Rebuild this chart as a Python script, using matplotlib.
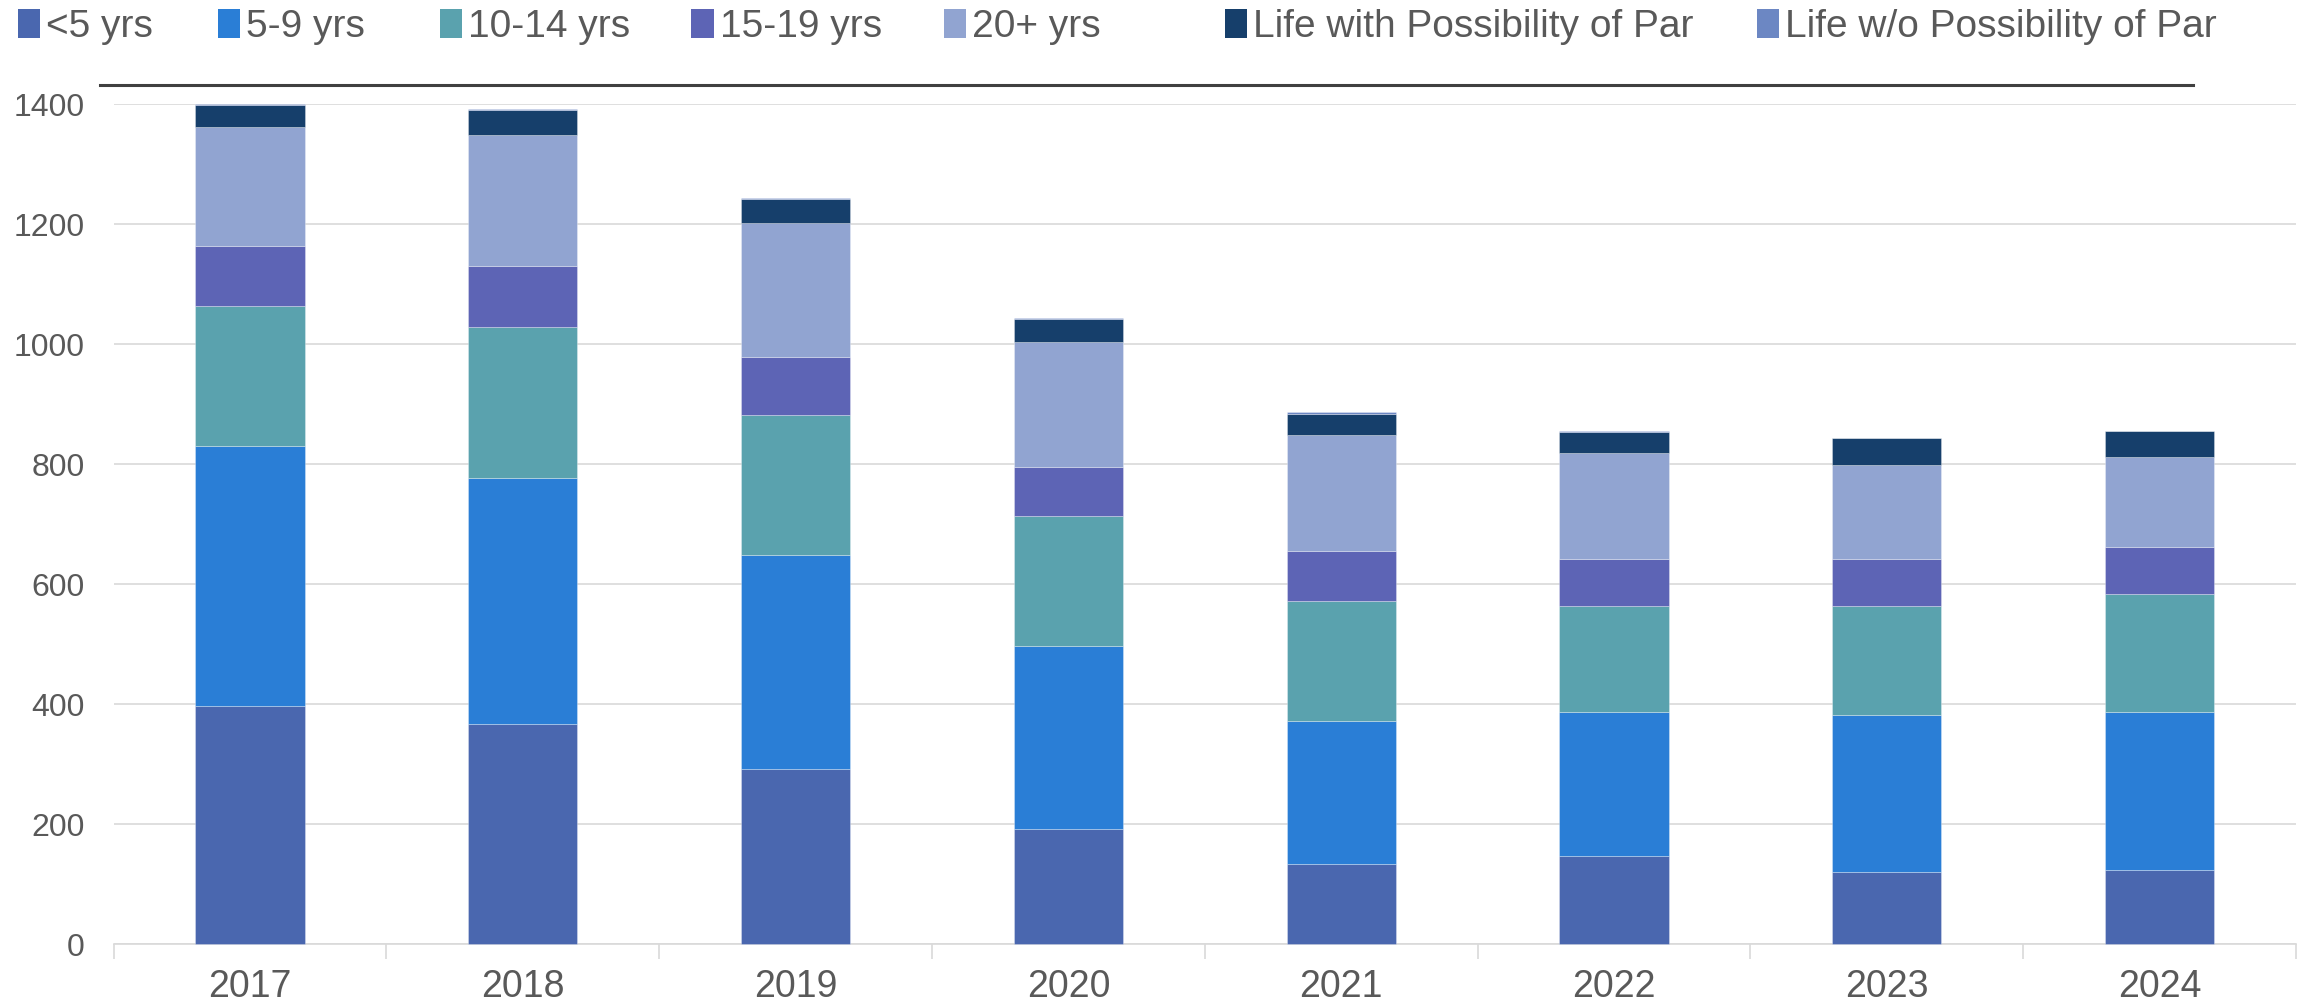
import matplotlib
matplotlib.use("Agg")
import matplotlib.pyplot as plt
import numpy as np
from matplotlib.lines import Line2D
from matplotlib.patches import Patch

plt.rcParams['font.family'] = ['Liberation Sans', 'DejaVu Sans']

years = ["2017", "2018", "2019", "2020", "2021", "2022", "2023", "2024"]
series_names = ["<5 yrs", "5-9 yrs", "10-14 yrs", "15-19 yrs", "20+ yrs",
                "Life with Possibility of Par", "Life w/o Possibility of Par"]

under_5 = [397, 367, 291, 191, 133, 147, 120, 123]
yrs_5_9 = [433, 409, 357, 306, 238, 240, 262, 264]
yrs_10_14 = [234, 253, 233, 216, 201, 177, 182, 196]
yrs_15_19 = [100, 101, 97, 82, 83, 78, 78, 79]
yrs_20_plus = [197, 218, 224, 209, 194, 177, 157, 149]
life_parole = [38, 42, 39, 37, 34, 34, 44, 44]
life_no_parole = [1, 2, 2, 2, 4, 2, 1, 0]

colors = ["#4A67AF", "#2A7ED6", "#5AA2AE", "#5D64B5", "#91A4D1", "#163F6B", "#6C87C3"]
text_color = "#595959"
grid_color = "#D9D9D9"

# left edge of each legend entry, in pixels of the 2305 px wide picture
legend_x = [17.6, 217.6, 439.5, 691, 943.7, 1224.5, 1756.7]

all_series = [under_5, yrs_5_9, yrs_10_14, yrs_15_19, yrs_20_plus, life_parole, life_no_parole]

fig = plt.figure(figsize=(23.05, 10.06), dpi=100)
ax = fig.add_axes([113.6 / 2305, 1 - 944 / 1006, (2296 - 113.6) / 2305, (944 - 104) / 1006])

x = np.arange(len(years))
bottom = np.zeros(len(years))
for name, vals, col in zip(series_names, all_series, colors):
    vals = np.array(vals, dtype=float)
    ax.bar(x, vals, 0.4, bottom=bottom, color=col, label=name,
           edgecolor=(1, 1, 1, 0.35), linewidth=0.6, zorder=3, clip_on=False)
    bottom += vals

ax.set_xlim(-0.5, len(years) - 0.5)
ax.set_ylim(0, 1400)
ax.set_yticks(np.arange(0, 1401, 200))
ax.yaxis.grid(True, color=grid_color, linewidth=1.2, zorder=0)
ax.set_axisbelow(True)

ax.set_xticks(x)
ax.set_xticklabels(years)
ax.set_xticks(np.arange(-0.5, len(years), 1), minor=True)
ax.tick_params(axis='x', which='major', length=0, pad=18, labelsize=27, labelcolor=text_color)
ax.tick_params(axis='x', which='minor', length=11, width=1.2, color=grid_color)
ax.tick_params(axis='y', length=0, pad=21, labelsize=23, labelcolor=text_color)

for s in ['top', 'right', 'left']:
    ax.spines[s].set_visible(False)
ax.spines['bottom'].set_color(grid_color)
ax.spines['bottom'].set_linewidth(1.2)

# dark rule under the legend
fig.add_artist(Line2D([100 / 2305, 2193 / 2305], [1 - 85 / 1006, 1 - 85 / 1006],
                      color="#404040", linewidth=2.2))

# one legend per entry so the uneven spacing can be kept
for name, col, lx in zip(series_names, colors, legend_x):
    fig.legend([Patch(facecolor=col)], [name], loc='center left',
               bbox_to_anchor=(lx / 2305, 1 - 27 / 1006), frameon=False,
               fontsize=28, labelcolor=text_color, borderpad=0, borderaxespad=0,
               handlelength=0.58, handleheight=0.75, handletextpad=0.16)

fig.savefig("out.png", dpi=100)
